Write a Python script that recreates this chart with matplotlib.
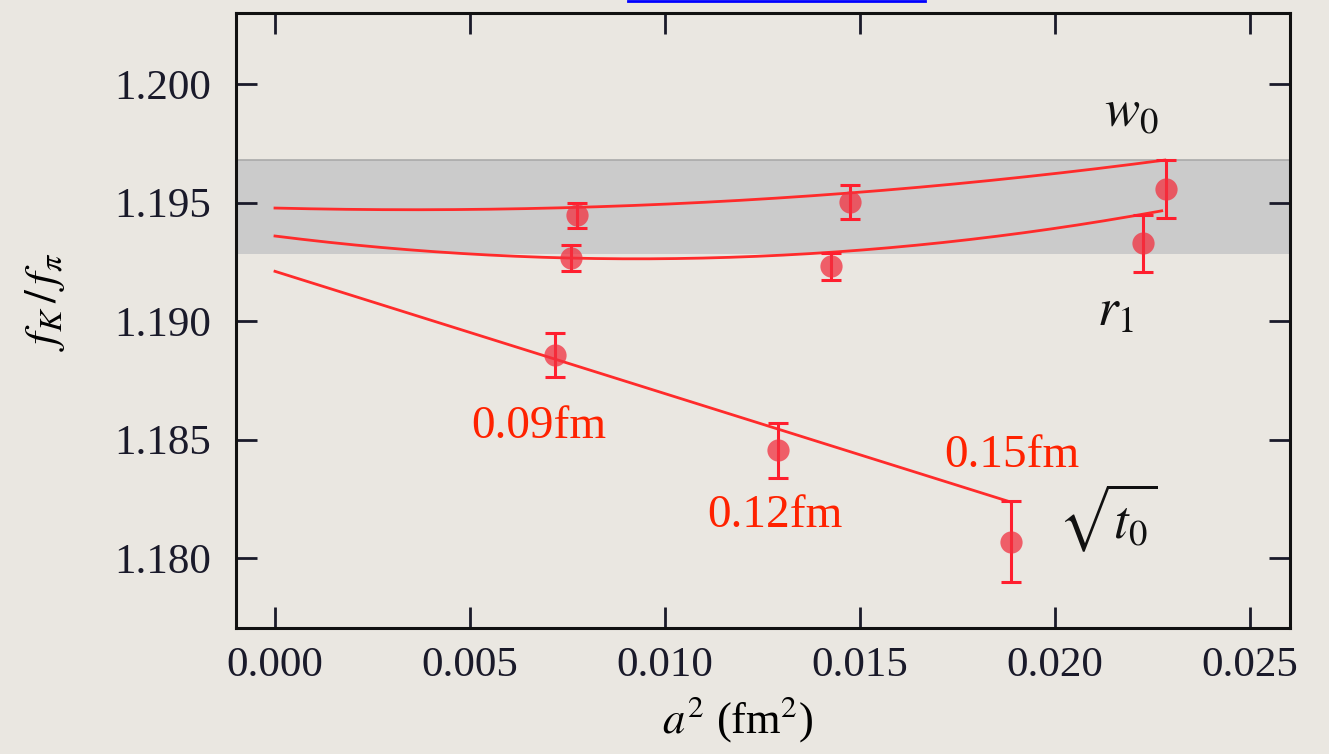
import numpy as np
import matplotlib
matplotlib.use("Agg")
import matplotlib.pyplot as plt
from matplotlib.lines import Line2D

# ---- data ----
w0_x = [0.00774, 0.01474, 0.02285]
w0_y = [1.19447, 1.19502, 1.19557]
w0_err = [0.00053, 0.00072, 0.00124]

r1_x = [0.00759, 0.01426, 0.02226]
r1_y = [1.19266, 1.19232, 1.19329]
r1_err = [0.00056, 0.00057, 0.00120]

t0_x = [0.00718, 0.01290, 0.01887]
t0_y = [1.18857, 1.18456, 1.18068]
t0_err = [0.00093, 0.00116, 0.00171]

# fit curves: y = c0 + c1*x + c2*x^2, drawn from x=0 to x_end
fit_w0 = [1.19477, -0.0400, 5.64]
fit_w0_end = 0.02282
fit_r1 = [1.19359, -0.2075, 11.18]
fit_r1_end = 0.02274
fit_t0 = [1.19210, -0.516, 0.0]
fit_t0_end = 0.01887

band = [1.19283, 1.19679]

spacing_labels = ["0.09fm", "0.12fm", "0.15fm"]
spacing_pos = [(0.00677, 1.18555), (0.01282, 1.18180), (0.01890, 1.18430)]

method_labels = [r"$w_0$", r"$r_1$", r"$\sqrt{t_0}$"]
method_pos = [(0.02195, 1.19875), (0.02155, 1.19035), (0.02135, 1.18170)]

xticks = [0.000, 0.005, 0.010, 0.015, 0.020, 0.025]
yticks = [1.180, 1.185, 1.190, 1.195, 1.200]

# ---- style ----
bg = "#eae7e1"
red_line = "#ff2b2b"
red_pt = "#f2303f"
plt.rcParams["mathtext.fontset"] = "stix"
plt.rcParams["font.family"] = ["Liberation Serif", "DejaVu Serif"]

fig = plt.figure(figsize=(13.29, 7.54), dpi=100, facecolor=bg)
ax = fig.add_axes([236/1329, 1 - 628/754, (1290-236)/1329, (628-13)/754])
ax.set_facecolor(bg)

ax.set_xlim(-0.001, 0.02603)
ax.set_ylim(1.17705, 1.2030)

ax.axhspan(band[0], band[1], color="#cbcbcb", lw=0, zorder=0)
ax.axhline(band[1], color="#aaaaaa", lw=1.2, zorder=0.5)

for coef, xend in [(fit_w0, fit_w0_end), (fit_r1, fit_r1_end), (fit_t0, fit_t0_end)]:
    xs = np.linspace(0, xend, 200)
    ys = coef[0] + coef[1]*xs + coef[2]*xs**2
    ax.plot(xs, ys, color=red_line, lw=2.0, zorder=2)

for xs, ys, es in [(w0_x, w0_y, w0_err), (r1_x, r1_y, r1_err), (t0_x, t0_y, t0_err)]:
    ax.errorbar(xs, ys, yerr=es, fmt="none", ecolor="#ff1f2f", elinewidth=2.2,
                capsize=7, capthick=2.2, zorder=3)
    ax.plot(xs, ys, "o", color=red_pt, alpha=0.75, ms=16, mec="none", zorder=4)

for lab, (x, y) in zip(spacing_labels, spacing_pos):
    ax.text(x, y, lab, color="#ff2200", fontsize=34, ha="center", va="center",
            family=["Liberation Serif"])

for lab, (x, y) in zip(method_labels, method_pos):
    ax.text(x, y, lab, color="#111111", fontsize=38, ha="center", va="center")

ax.set_xticks(xticks)
ax.set_xticklabels([f"{v:.3f}" for v in xticks])
ax.set_yticks(yticks)
ax.set_yticklabels([f"{v:.3f}" for v in yticks])
ax.tick_params(direction="in", length=15, width=2, top=True, right=True,
               labelsize=31, colors="#1a1a2a")
ax.tick_params(axis="y", pad=18)
ax.tick_params(axis="x", pad=13)
for s in ax.spines.values():
    s.set_linewidth(2.2)
    s.set_color("#111111")

ax.set_xlabel(r"$a^2$ (fm$^2$)", fontsize=32)
ax.xaxis.set_label_coords(0.476, -0.108)
ax.set_ylabel(r"$f_K\,/\,f_\pi$", fontsize=33)
ax.yaxis.set_label_coords(-0.16, 0.53)

fig.add_artist(Line2D([628/1329, 925/1329], [1 - 1/754, 1 - 1/754],
                      transform=fig.transFigure, color="#0000ff", lw=2))

fig.savefig("out.png", dpi=100, facecolor=bg)
